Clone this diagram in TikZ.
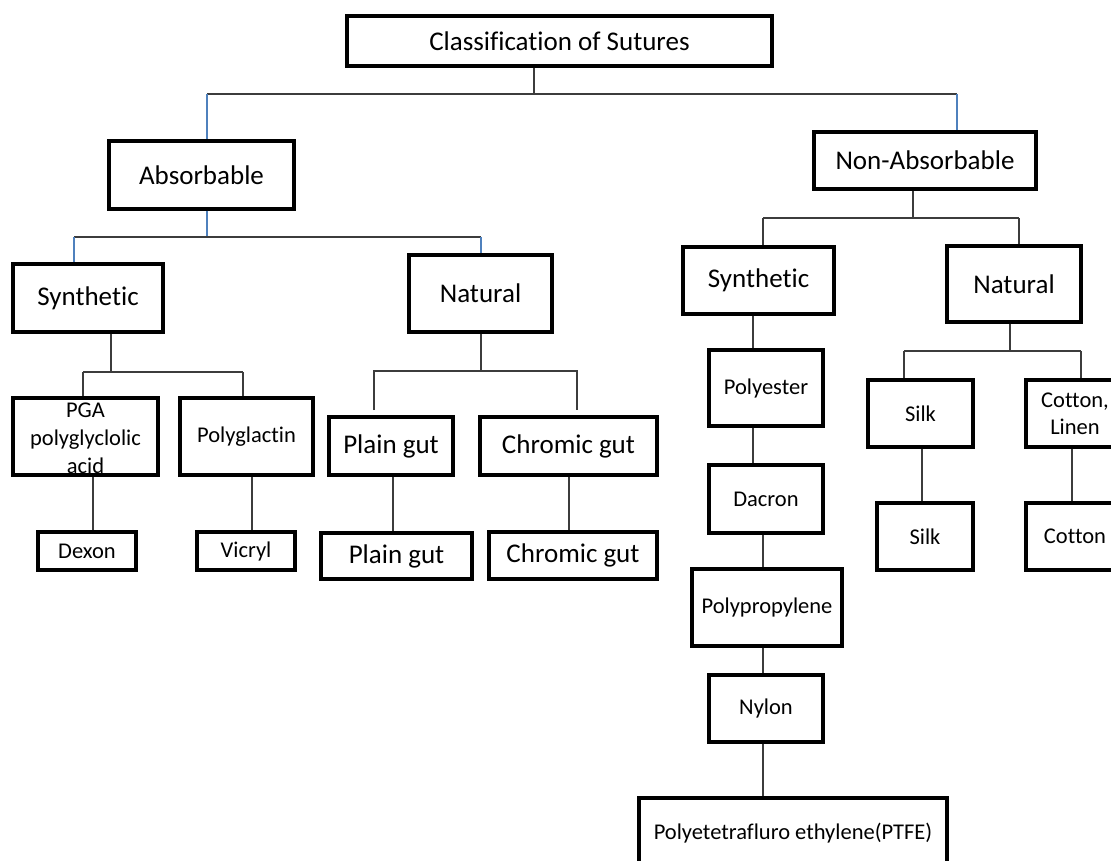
\documentclass[tikz,border=0pt]{standalone}
\usepackage{fontspec}
\setmainfont[Ligatures={NoCommon}]{Carlito}
\definecolor{linegray}{HTML}{3C3C3C}
\definecolor{lineblue}{HTML}{4F81BD}
\tikzset{
  bx/.style={draw=black, line width=3.3pt, inner sep=0pt, align=center, text=black},
  big/.style={font=\fontsize{27}{32}\selectfont},
  small/.style={font=\fontsize{22.5}{27}\selectfont},
  cn/.style={draw=linegray, line width=1.4pt},
  bcn/.style={draw=lineblue, line width=1.4pt},
}
\begin{document}
\begin{tikzpicture}[x=1pt,y=-1pt]
\useasboundingbox (0,0) rectangle (1111,860);
\clip (0,0) rectangle (1111,860);
\fill[white] (0,0) rectangle (1111,860);

% level 0
\node[bx,big,minimum width=425pt,minimum height=50pt] (root) at (559.5,41) {Classification of Sutures};
% level 1
\node[bx,big,minimum width=185pt,minimum height=68pt] (absorb) at (201.5,175) {Absorbable};
\node[bx,big,minimum width=222pt,minimum height=57pt] (nonabs) at (925,160.5) {Non-Absorbable};
% level 2
\node[bx,big,minimum width=150pt,minimum height=68pt] (synL) at (88,298) {Synthetic};
\node[bx,big,minimum width=143pt,minimum height=77pt] (natL) at (480.5,293.5) {Natural};
\node[bx,big,minimum width=151pt,minimum height=67pt] (synR) at (758.5,280.5) {Synthetic};
\node[bx,big,minimum width=134pt,minimum height=76pt] (natR) at (1014,284) {Natural};
% absorbable synthetic
\node[bx,minimum width=145pt,minimum height=77pt] (pga) at (85.5,436.5) {};
\node[font=\fontsize{22.5}{28}\selectfont,align=center,inner sep=0pt] (pgatext) at (85.5,438.5) {PGA\\polyglyclolic\\acid};
\node[bx,small,minimum width=133pt,minimum height=77pt] (pglac) at (246.5,436.5) {Polyglactin};
\node[bx,small,minimum width=98pt,minimum height=38pt] (dexon) at (87,551) {Dexon};
\node[bx,small,minimum width=98pt,minimum height=38pt] (vicryl) at (246,551) {Vicryl};
% absorbable natural
\node[bx,big,minimum width=124pt,minimum height=58pt] (plainA) at (391,446) {Plain gut};
\node[bx,big,minimum width=177pt,minimum height=58pt] (chromA) at (568.5,446) {Chromic gut};
\node[bx,big,minimum width=151pt,minimum height=46pt] (plainB) at (396.5,556) {Plain gut};
\node[bx,big,minimum width=168pt,minimum height=47pt] (chromB) at (573,555.5) {Chromic gut};
% non-absorbable synthetic
\node[bx,small,minimum width=114pt,minimum height=76pt] (polyester) at (766,388) {Polyester};
\node[bx,small,minimum width=114pt,minimum height=68pt] (dacron) at (766,499) {Dacron};
\node[bx,small,minimum width=150pt,minimum height=77pt] (polyprop) at (767,607.5) {Polypropylene};
\node[bx,small,minimum width=114pt,minimum height=67pt] (nylon) at (766,708.5) {Nylon};
\node[bx,small,minimum width=308pt,minimum height=70pt] (ptfe) at (793,833) {Polyetetrafluro ethylene(PTFE)};
% non-absorbable natural
\node[bx,small,minimum width=105pt,minimum height=67pt] (silkA) at (920.5,413.5) {Silk};
\node[bx,small,minimum width=98pt,minimum height=67pt] (cotlin) at (1075,413.5) {Cotton,\\Linen};
\node[bx,small,minimum width=96pt,minimum height=67pt] (silkB) at (925,536.5) {Silk};
\node[bx,small,minimum width=98pt,minimum height=67pt] (cotton) at (1075,536.5) {Cotton};

% bus coordinates
\coordinate (b0) at (534,94);   \coordinate (b0L) at (207,94);  \coordinate (b0R) at (957,94);
\coordinate (b1) at (207,237);  \coordinate (b1L) at (74,237);  \coordinate (b1R) at (481,237);
\coordinate (b2) at (913,218);  \coordinate (b2L) at (763,218); \coordinate (b2R) at (1019,218);
\coordinate (b3) at (111,372);  \coordinate (b3L) at (83,372);  \coordinate (b3R) at (243,372);
\coordinate (b4) at (481,371);  \coordinate (b4L) at (374,371); \coordinate (b4R) at (577,371);
\coordinate (e4L) at (374,410); \coordinate (e4R) at (577,410);
\coordinate (b5) at (1010,351); \coordinate (b5L) at (904,351); \coordinate (b5R) at (1081,351);
% vertical guides
\coordinate (vpd) at (93,500);  \coordinate (vgv) at (252,500);
\coordinate (vpp) at (393,500); \coordinate (vcc) at (569,500);
\coordinate (vpe) at (753,440); \coordinate (vdp) at (763,600);
\coordinate (vss) at (922,470); \coordinate (vcl) at (1072,470);

% root -> level 1
\draw[cn] (root.south -| b0) -- (b0);
\draw[cn] (b0L) -- (b0R);
\draw[bcn] (b0L) -- (absorb.north -| b0L);
\draw[bcn] (b0R) -- (nonabs.north -| b0R);
% absorbable -> level 2
\draw[bcn] (absorb.south -| b1) -- (b1);
\draw[cn] (b1L) -- (b1R);
\draw[bcn] (b1L) -- (synL.north -| b1L);
\draw[bcn] (b1R) -- (natL.north -| b1R);
% non-absorbable -> level 2
\draw[cn] (nonabs.south -| b2) -- (b2);
\draw[cn] (b2L) -- (b2R);
\draw[cn] (b2L) -- (synR.north -| b2L);
\draw[cn] (b2R) -- (natR.north -| b2R);
% absorbable synthetic
\draw[cn] (synL.south -| b3) -- (b3);
\draw[cn] (b3L) -- (b3R);
\draw[cn] (b3L) -- (pga.north -| b3L);
\draw[cn] (b3R) -- (pglac.north -| b3R);
\draw[cn] (pga.south -| vpd) -- (dexon.north -| vpd);
\draw[cn] (pglac.south -| vgv) -- (vicryl.north -| vgv);
% absorbable natural
\draw[cn] (natL.south -| b4) -- (b4);
\draw[cn] (e4L) -- (b4L) -- (b4R) -- (e4R);
\draw[cn] (plainA.south -| vpp) -- (plainB.north -| vpp);
\draw[cn] (chromA.south -| vcc) -- (chromB.north -| vcc);
% non-absorbable synthetic chain
\draw[cn] (synR.south -| vpe) -- (polyester.north -| vpe);
\draw[cn] (polyester.south -| vpe) -- (dacron.north -| vpe);
\draw[cn] (dacron.south -| vdp) -- (polyprop.north -| vdp);
\draw[cn] (polyprop.south -| vdp) -- (nylon.north -| vdp);
\draw[cn] (nylon.south -| vdp) -- (ptfe.north -| vdp);
% non-absorbable natural
\draw[cn] (natR.south -| b5) -- (b5);
\draw[cn] (b5L) -- (b5R);
\draw[cn] (b5L) -- (silkA.north -| b5L);
\draw[cn] (b5R) -- (cotlin.north -| b5R);
\draw[cn] (silkA.south -| vss) -- (silkB.north -| vss);
\draw[cn] (cotlin.south -| vcl) -- (cotton.north -| vcl);
\end{tikzpicture}
\end{document}
